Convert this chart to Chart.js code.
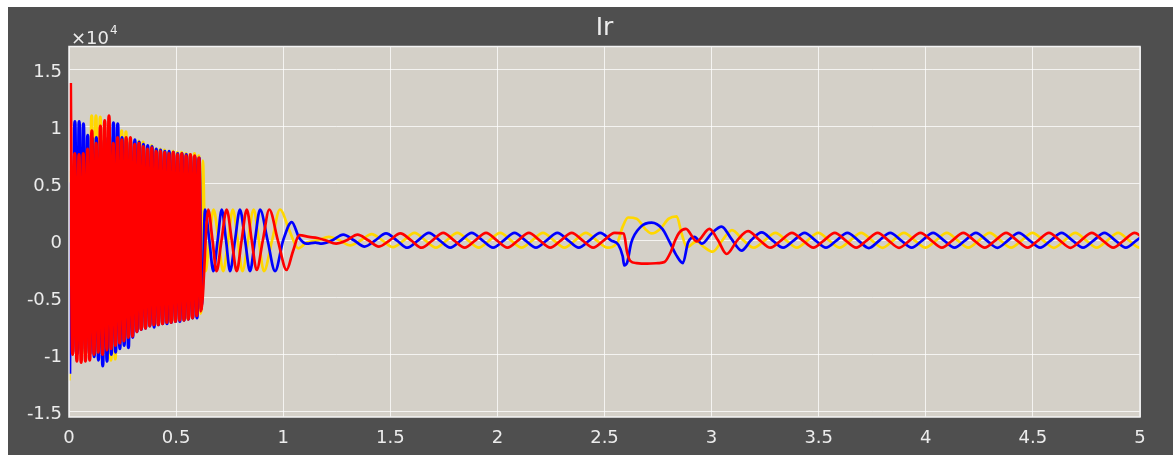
<!DOCTYPE html>
<html>
<head>
<meta charset="utf-8">
<title>Ir</title>
<script src="https://cdn.jsdelivr.net/npm/chart.js@4/dist/chart.umd.min.js"></script>
<style>
  html, body { margin: 0; background: #fff; }
  #scope { position: absolute; left: 8px; top: 7px; width: 1165px; height: 448px; background: #4f4f4f; }
</style>
</head>
<body>
<div id="scope"><canvas id="chart" width="1165" height="448"></canvas></div>
<script>
// axis ticks
const xTicks = [0, 0.5, 1, 1.5, 2, 2.5, 3, 3.5, 4, 4.5, 5];
const xTickLabels = ['0', '0.5', '1', '1.5', '2', '2.5', '3', '3.5', '4', '4.5', '5'];
const yTicks = [-1.5, -1, -0.5, 0, 0.5, 1, 1.5];
const yTickLabels = ['-1.5', '-1', '-0.5', '0', '0.5', '1', '1.5'];

// first sample of each phase at switch-on (values x 10^4 A)
const yellowOnsetT = [0];
const yellowOnsetV = [-1.23];
const blueOnsetT = [0.003];
const blueOnsetV = [-1.17];

// start-up: one sample per half cycle, 10 ms apart
const denseStep = 0.01;
const denseEnd = 0.62;
const yellowDenseStart = 0.0059;
const blueDenseStart = 0.0075;
const redDenseStart = 0.0067;
const yellowDense = [0.6, -0.98, 0.7, -1.0, 0.72, -0.95, 0.8, -1.0, 0.85, -0.98, 1.09, -0.96, 1.09, -1.0, 1.08, -1.0,
  0.9, -1.02, 0.92, -1.05, 0.9, -1.04, 0.92, -0.9, 0.96, -0.88, 0.95, -0.86, 0.88, -0.8, 0.85, -0.78,
  0.87, -0.77, 0.86, -0.76, 0.82, -0.75, 0.83, -0.74, 0.8, -0.73, 0.8, -0.73, 0.79, -0.72, 0.78, -0.72,
  0.78, -0.71, 0.77, -0.7, 0.77, -0.7, 0.76, -0.69, 0.75, -0.68, 0.76, -0.66, 0.74, -0.64];
const blueDense = [0.5, -0.98, 1.04, -1.0, 1.04, -0.97, 1.02, -0.99, 0.92, -1.0, 0.9, -1.02, 0.9, -1.05, 0.88, -1.1,
  0.9, -1.06, 0.95, -1.0, 1.03, -0.98, 1.02, -0.95, 0.9, -0.92, 0.88, -0.94, 0.87, -0.85, 0.88, -0.8,
  0.86, -0.78, 0.84, -0.77, 0.83, -0.75, 0.82, -0.76, 0.8, -0.74, 0.79, -0.73, 0.78, -0.73, 0.78, -0.72,
  0.77, -0.71, 0.76, -0.71, 0.76, -0.7, 0.75, -0.69, 0.74, -0.68, 0.73, -0.68, 0.72, -0.6];
const redDense = [1.38, -1.0, 0.76, -1.06, 0.75, -1.07, 0.76, -1.06, 0.8, -1.05, 0.96, -1.0, 0.85, -0.98, 1.0, -1.0,
  1.05, -0.96, 1.09, -0.95, 0.85, -0.92, 0.9, -0.9, 0.88, -0.88, 0.9, -0.85, 0.9, -0.84, 0.84, -0.8,
  0.85, -0.78, 0.82, -0.77, 0.8, -0.75, 0.81, -0.74, 0.78, -0.74, 0.78, -0.73, 0.77, -0.72, 0.76, -0.72,
  0.77, -0.71, 0.75, -0.7, 0.76, -0.7, 0.74, -0.69, 0.75, -0.68, 0.74, -0.66, 0.72, -0.62];

// crowbar release, slowing oscillation (peaks and zero crossings)
const yellowTransT = [0.625, 0.638, 0.655, 0.675, 0.698, 0.72, 0.743, 0.765, 0.788, 0.81, 0.836, 0.862, 0.886, 0.91, 0.948, 0.985, 1.03, 1.07, 1.11];
const yellowTransV = [0.7, -0.27, 0, 0.27, 0, -0.27, 0, 0.27, 0, -0.27, 0, 0.27, 0, -0.27, 0, 0.27, 0.08, -0.07, -0.02];
const blueTransT = [0.623, 0.635, 0.655, 0.674, 0.694, 0.713, 0.733, 0.752, 0.775, 0.798, 0.822, 0.845, 0.868, 0.892, 0.927, 0.962, 1.0, 1.04, 1.075, 1.11, 1.15, 1.18];
const blueTransV = [-0.5, 0.27, 0, -0.27, 0, 0.27, 0, -0.27, 0, 0.27, 0, -0.27, 0, 0.27, 0, -0.27, 0, 0.16, 0.02, -0.03, -0.02, -0.03];
const redTransT = [0.65, 0.67, 0.689, 0.712, 0.736, 0.76, 0.783, 0.806, 0.83, 0.853, 0.876, 0.905, 0.935, 0.975, 1.016, 1.045, 1.075, 1.12, 1.16];
const redTransV = [0.27, 0, -0.27, 0, 0.27, 0, -0.27, 0, 0.27, 0, -0.26, 0, 0.27, 0, -0.26, -0.1, 0.045, 0.03, 0.02];

// steady slip-frequency current before the dip, 50 ms apart
const steadyStep = 0.05;
const yellowSteady1Start = 1.163;
const blueSteady1Start = 1.23;
const redSteady1Start = 1.197;
const yellowSteady1 = [0, 0.03, 0, -0.045, 0, 0.055, 0, -0.06, 0, 0.065, 0, -0.065, 0, 0.065, 0, -0.065,
  0, 0.065, 0, -0.065, 0, 0.065, 0, -0.065, 0, 0.065, 0, -0.065];
const blueSteady1 = [0, 0.05, 0, -0.055, 0, 0.06, 0, -0.065, 0, 0.065, 0, -0.065, 0, 0.065, 0, -0.065,
  0, 0.065, 0, -0.065, 0, 0.065, 0, -0.065, 0, 0.065, 0];
const redSteady1 = [0, -0.03, 0, 0.05, 0, -0.055, 0, 0.06, 0, -0.065, 0, 0.065, 0, -0.065, 0, 0.065,
  0, -0.065, 0, 0.065, 0, -0.065, 0, 0.065, 0, -0.065, 0, 0.065];

// voltage dip at 2.6 s
const yellowFaultT = [2.56, 2.585, 2.61, 2.65, 2.69, 2.72, 2.76, 2.8, 2.837, 2.86, 2.885, 2.93, 2.965, 3.005, 3.05, 3.095];
const yellowFaultV = [-0.02, 0.12, 0.2, 0.19, 0.1, 0.06, 0.1, 0.19, 0.21, 0.06, -0.06, -0.01, -0.06, -0.1, 0, 0.09];
const blueFaultT = [2.565, 2.585, 2.592, 2.605, 2.625, 2.67, 2.72, 2.77, 2.8, 2.835, 2.866, 2.89, 2.92, 2.955, 3.0, 3.047, 3.09, 3.14];
const blueFaultV = [-0.04, -0.14, -0.22, -0.2, -0.02, 0.12, 0.155, 0.1, 0, -0.13, -0.2, -0.02, 0.03, -0.03, 0.06, 0.12, 0.02, -0.09];
const redFaultT = [2.59, 2.605, 2.62, 2.65, 2.7, 2.75, 2.78, 2.81, 2.83, 2.85, 2.88, 2.93, 2.99, 3.03, 3.07, 3.12, 3.17];
const redFaultV = [0.06, -0.1, -0.18, -0.2, -0.205, -0.2, -0.19, -0.1, 0, 0.07, 0.1, -0.01, 0.1, 0, -0.12, 0, 0.08];

// steady again after recovery
const yellowSteady2Start = 3.148;
const blueSteady2Start = 3.184;
const redSteady2Start = 3.225;
const yellowSteady2 = [0, -0.065, 0, 0.065, 0, -0.065, 0, 0.066, 0, -0.065, 0, 0.065, 0, -0.066, 0, 0.065,
  0, -0.065, 0, 0.065, 0, -0.065, 0, 0.066, 0, -0.065, 0, 0.065, 0, -0.066, 0, 0.065,
  0, -0.065, 0, 0.065, 0, -0.065, 0];
const blueSteady2 = [0, 0.07, 0, -0.065, 0, 0.065, 0, -0.065, 0, 0.065, 0, -0.068, 0, 0.065, 0, -0.065,
  0, 0.066, 0, -0.065, 0, 0.065, 0, -0.066, 0, 0.065, 0, -0.065, 0, 0.066, 0, -0.065,
  0, 0.065, 0, -0.065, 0, 0.065];
const redSteady2 = [0, -0.065, 0, 0.065, 0, -0.065, 0, 0.066, 0, -0.065, 0, 0.065, 0, -0.066, 0, 0.065,
  0, -0.065, 0, 0.065, 0, -0.065, 0, 0.066, 0, -0.065, 0, 0.065, 0, -0.066, 0, 0.065,
  0, -0.065, 0, 0.065, 0];

function evenly(t0, step, values) {
  return values.map((v, i) => ({ x: t0 + i * step, y: v }));
}
function paired(times, values) {
  return times.map((t, i) => ({ x: t, y: values[i] }));
}

const yellowData = [].concat(
  paired(yellowOnsetT, yellowOnsetV),
  evenly(yellowDenseStart, denseStep, yellowDense),
  paired(yellowTransT, yellowTransV),
  evenly(yellowSteady1Start, steadyStep, yellowSteady1),
  paired(yellowFaultT, yellowFaultV),
  evenly(yellowSteady2Start, steadyStep, yellowSteady2));
const blueData = [].concat(
  paired(blueOnsetT, blueOnsetV),
  evenly(blueDenseStart, denseStep, blueDense),
  paired(blueTransT, blueTransV),
  evenly(blueSteady1Start, steadyStep, blueSteady1),
  paired(blueFaultT, blueFaultV),
  evenly(blueSteady2Start, steadyStep, blueSteady2));
const redData = [].concat(
  evenly(redDenseStart, denseStep, redDense),
  paired(redTransT, redTransV),
  evenly(redSteady1Start, steadyStep, redSteady1),
  paired(redFaultT, redFaultV),
  evenly(redSteady2Start, steadyStep, redSteady2));

const labelColor = '#ececec';
const gridColor = 'rgba(255,255,255,0.75)';
Chart.defaults.font.family = '"DejaVu Sans", sans-serif';

// the crowded start-up swings are stroked a bit heavier
function traceWidth(ctx) {
  return ctx.p1.parsed.x < denseEnd ? 3.4 : 2.7;
}

// plot background, frame, title and the x10^4 multiplier
const scopeFrame = {
  id: 'scopeFrame',
  beforeDraw(chart) {
    const a = chart.chartArea, ctx = chart.ctx;
    ctx.save();
    ctx.fillStyle = '#d4d0c8';
    ctx.fillRect(a.left, a.top, a.right - a.left, a.bottom - a.top);
    ctx.restore();
  },
  afterDraw(chart) {
    const a = chart.chartArea, ctx = chart.ctx;
    ctx.save();
    ctx.strokeStyle = '#f4f4f4';
    ctx.lineWidth = 1.5;
    ctx.strokeRect(a.left, a.top, a.right - a.left, a.bottom - a.top);
    ctx.fillStyle = labelColor;
    ctx.textAlign = 'center';
    ctx.textBaseline = 'middle';
    ctx.font = '25px "DejaVu Sans"';
    ctx.fillText('Ir', (a.left + a.right) / 2, 21);
    ctx.textAlign = 'left';
    ctx.textBaseline = 'alphabetic';
    ctx.font = '18px "DejaVu Sans"';
    ctx.fillText('\u00d710', a.left + 2, 36.5);
    const w = ctx.measureText('\u00d710').width;
    ctx.font = '12px "DejaVu Sans"';
    ctx.fillText('4', a.left + 3 + w, 27);
    ctx.restore();
  }
};

new Chart(document.getElementById('chart'), {
  type: 'line',
  data: {
    datasets: [
      { label: 'Ir a', data: yellowData, borderColor: '#ffd700', order: 3 },
      { label: 'Ir b', data: blueData, borderColor: '#0000ff', order: 2 },
      { label: 'Ir c', data: redData, borderColor: '#ff0000', order: 1 }
    ]
  },
  options: {
    animation: false,
    responsive: false,
    devicePixelRatio: 1,
    layout: { padding: { left: 0, right: 33, top: 39.5, bottom: 0 } },
    plugins: { legend: { display: false }, tooltip: { enabled: false }, title: { display: false } },
    elements: {
      point: { radius: 0 },
      line: { borderWidth: 2.7, cubicInterpolationMode: 'monotone', fill: false }
    },
    datasets: {
      line: { segment: { borderWidth: traceWidth } }
    },
    scales: {
      x: {
        type: 'linear', min: 0, max: 5,
        afterFit: s => { s.height = 38; },
        afterBuildTicks: s => { s.ticks = xTicks.map(v => ({ value: v })); },
        ticks: {
          color: labelColor, font: { size: 18 }, padding: 11, maxRotation: 0, autoSkip: false,
          callback: v => xTickLabels[xTicks.indexOf(v)]
        },
        grid: { color: gridColor, lineWidth: 1, drawTicks: false },
        border: { display: false }
      },
      y: {
        type: 'linear', min: -1.55, max: 1.7,
        afterFit: s => { s.width = 61; },
        afterBuildTicks: s => { s.ticks = yTicks.map(v => ({ value: v })); },
        ticks: {
          color: labelColor, font: { size: 18 }, padding: 7, labelOffset: 3,
          callback: v => yTickLabels[yTicks.indexOf(v)]
        },
        grid: { color: gridColor, lineWidth: 1, drawTicks: false },
        border: { display: false }
      }
    }
  },
  plugins: [scopeFrame]
});
</script>
</body>
</html>
